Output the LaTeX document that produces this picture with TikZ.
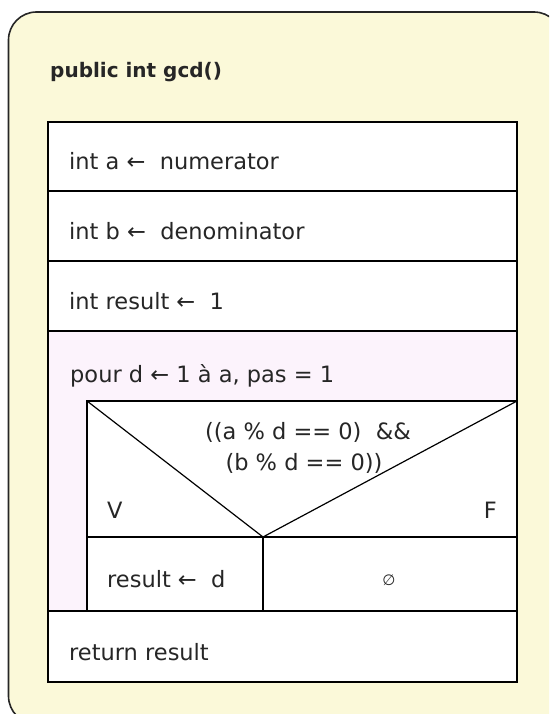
\documentclass[tikz,border=0pt]{standalone}
\usepackage{fontspec}
\setmainfont{DejaVu Sans}
\usetikzlibrary{positioning}

\definecolor{nsyellow}{RGB}{251,249,217}
\definecolor{nspink}{RGB}{252,243,252}

\tikzset{
  cell/.style={draw=black, line width=1.2pt, fill=white},
  loopcell/.style={cell, fill=nspink},
  txt/.style={inner sep=0pt, anchor=base west, text=black!85, font=\fontsize{22.5}{27}\selectfont},
}

\begin{document}
\begin{tikzpicture}[x=1pt,y=-1pt]
	\useasboundingbox (0,0) rectangle (549,714);
	\clip (0,0) rectangle (549,714);
	
	% method frame
	\draw[fill=nsyellow, draw=black!85, line width=1.6pt, rounded corners=28pt] (8.5,12) rectangle (562,724);
	\node[txt, font=\fontsize{20}{24}\selectfont\bfseries] (title) at (50,78) {public int gcd()};
	
	% statements
	\draw[cell] (48,122) rectangle (517,191);
	\draw[cell] (48,191) rectangle (517,261);
	\draw[cell] (48,261) rectangle (517,331);
	\node[txt] (rowa) at (69,170) {int a ←\ \ numerator};
	\node[txt] (rowb) at (69,239) {int b ←\ \ denominator};
	\node[txt] (rowres) at (69,309) {int result ←\ \ 1};
	
	% loop
	\draw[loopcell] (48,331) rectangle (517,611);
	\node[txt] (loop) at (70,382) {pour d ← 1 à a, pas = 1};
	
	% condition
	\coordinate (cnw) at (87,401);
	\coordinate (cne) at (517,401);
	\coordinate (tip) at (263,537);
	\draw[cell] (cnw) rectangle (517,537);
	\draw[line width=1.2pt] (cnw) -- (tip) -- (cne);
	\node[txt, anchor=base] (condtop) at (308,439) {((a \% d == 0)\ \ \&\&};
	\node[txt, anchor=base] (condbot) at (304,470) {(b \% d == 0))};
	\node[txt] (vtrue) at (107,518) {V};
	\node[txt, anchor=base east] (ffalse) at (497,518) {F};
	
	% branches
	\draw[cell] (87,537) rectangle (263,611);
	\draw[cell] (263,537) rectangle (517,611);
	\node[txt] (then) at (107,587) {result ←\ \ d};
	\node[txt, anchor=center, font=\fontsize{15}{18}\selectfont] (else) at (389,580) {∅};
	
	% return
	\draw[cell] (48,611) rectangle (517,682);
	\node[txt] (ret) at (69,660) {return result};
\end{tikzpicture}
\end{document}
